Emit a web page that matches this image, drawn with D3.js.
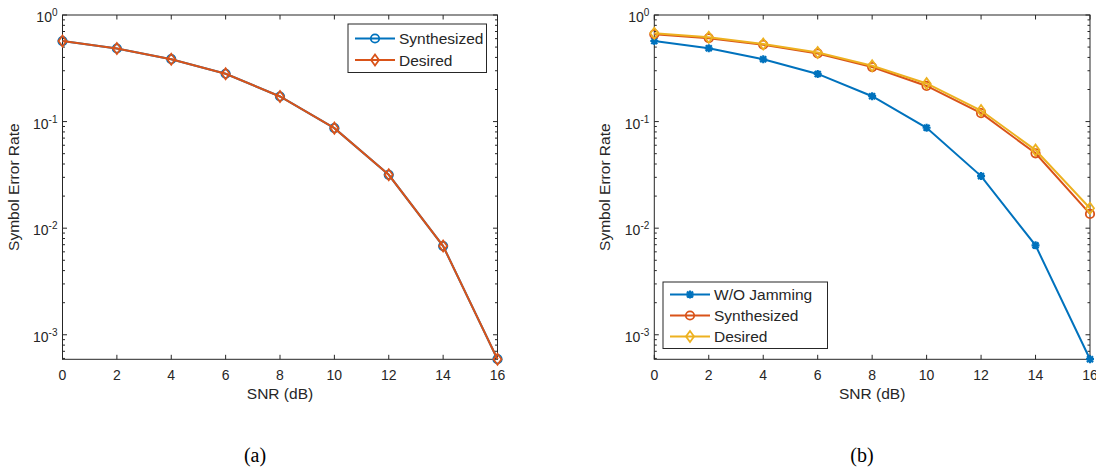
<!DOCTYPE html>
<html>
<head>
<meta charset="utf-8">
<script src="https://cdn.jsdelivr.net/npm/d3@7"></script>
<style>
  body { margin: 0; background: #fff; }
  svg { display: block; }
  text { font-family: "Liberation Sans", Arial, sans-serif; fill: #262626; }
</style>
</head>
<body>
<svg id="chart" width="1096" height="470"></svg>
<script>
// SNR points (dB)
var snr = [0, 2, 4, 6, 8, 10, 12, 14, 16];
var xTicks = [0, 2, 4, 6, 8, 10, 12, 14, 16];
var yTickExp = [0, -1, -2, -3];

// panel (a)
var aSynth   = [0.57, 0.485, 0.385, 0.281, 0.172, 0.0868, 0.0317, 0.0068, 0.00059];
var aDesired = [0.57, 0.485, 0.385, 0.281, 0.172, 0.0868, 0.0317, 0.0068, 0.00059];

// panel (b)
var bNoJam   = [0.57, 0.487, 0.384, 0.28, 0.173, 0.0875, 0.0308, 0.0069, 0.00059];
var bSynth   = [0.66, 0.606, 0.526, 0.436, 0.325, 0.216, 0.120, 0.0504, 0.0136];
var bDesired = [0.675, 0.618, 0.535, 0.445, 0.334, 0.228, 0.127, 0.054, 0.0154];

var blue = "#0072BD", orange = "#D95319", yellow = "#EDB120", axisColor = "#262626";

const svg = d3.select("#chart");

function marker(g, type, color, cx, cy) {
  if (type == "circle") {
    g.append("circle").attr("cx", cx).attr("cy", cy).attr("r", 4.2)
      .attr("fill", "none").attr("stroke", color).attr("stroke-width", 1.8);
  } else if (type == "diamond") {
    g.append("path")
      .attr("d", `M${cx},${cy-5.5} L${cx+4},${cy} L${cx},${cy+5.5} L${cx-4},${cy} Z`)
      .attr("fill", "none").attr("stroke", color).attr("stroke-width", 1.8);
  } else if (type == "star") {
    var r = 4, q = 3;
    g.append("path")
      .attr("d", `M${cx-r},${cy} L${cx+r},${cy} M${cx},${cy-r} L${cx},${cy+r} M${cx-q},${cy-q} L${cx+q},${cy+q} M${cx-q},${cy+q} L${cx+q},${cy-q}`)
      .attr("stroke", color).attr("stroke-width", 2.2);
  }
}

function drawPanel(left, right, series, legend, caption, captionX) {
  const top = 15, bottom = 359.3;
  const x = d3.scaleLinear().domain([0, 16]).range([left, right]);
  const y = d3.scaleLog().domain([5.888e-4, 1]).range([bottom, top]);
  const g = svg.append("g");

  // box
  g.append("rect").attr("x", left).attr("y", top)
    .attr("width", right - left).attr("height", bottom - top)
    .attr("fill", "none").attr("stroke", axisColor).attr("stroke-width", 1);

  // x ticks (bottom and top, inward)
  xTicks.forEach(function(t) {
    g.append("line").attr("x1", x(t)).attr("x2", x(t)).attr("y1", bottom).attr("y2", bottom - 4.5)
      .attr("stroke", axisColor);
    g.append("line").attr("x1", x(t)).attr("x2", x(t)).attr("y1", top).attr("y2", top + 4.5)
      .attr("stroke", axisColor);
    g.append("text").attr("x", x(t)).attr("y", 380).attr("text-anchor", "middle")
      .style("font-size", "14px").text(t);
  });

  // y ticks, log scale major + minor
  for (var e = -4; e <= 0; e++) {
    for (var m = 1; m <= 9; m++) {
      var v = m * Math.pow(10, e);
      if (v < y.domain()[0] || v > 1) continue;
      var len = m == 1 ? 4.5 : 2.5;
      g.append("line").attr("x1", left).attr("x2", left + len).attr("y1", y(v)).attr("y2", y(v))
        .attr("stroke", axisColor);
      g.append("line").attr("x1", right).attr("x2", right - len).attr("y1", y(v)).attr("y2", y(v))
        .attr("stroke", axisColor);
    }
  }
  yTickExp.forEach(function(e) {
    var yy = y(Math.pow(10, e));
    var t = g.append("text").attr("x", left - 5).attr("y", yy + 7).attr("text-anchor", "end")
      .style("font-size", "14px");
    t.append("tspan").text("10");
    t.append("tspan").attr("dy", -6).style("font-size", "10px").text(e);
  });

  // axis labels
  g.append("text").attr("x", (left + right) / 2).attr("y", 399).attr("text-anchor", "middle")
    .style("font-size", "15.5px").text("SNR (dB)");
  g.append("text").attr("transform", `translate(${left - 44},${(top + bottom) / 2}) rotate(-90)`)
    .attr("text-anchor", "middle").style("font-size", "15.5px").text("Symbol Error Rate");

  // lines + markers
  series.forEach(function(s) {
    var pts = snr.map(function(d, i) { return [d, s.values[i]]; });
    g.append("path").datum(pts)
      .attr("fill", "none").attr("stroke", s.color).attr("stroke-width", 2)
      .attr("d", d3.line().x(d => x(d[0])).y(d => y(d[1])));
    pts.forEach(function(p) { marker(g, s.marker, s.color, x(p[0]), y(p[1])); });
  });

  // legend
  const lg = g.append("g");
  lg.append("rect").attr("x", legend.x).attr("y", legend.y)
    .attr("width", legend.w).attr("height", legend.h)
    .attr("fill", "#fff").attr("stroke", axisColor).attr("stroke-width", 1);
  series.forEach(function(s, i) {
    var ry = legend.y + legend.row0 + i * legend.step;
    var lx = legend.x + 7;
    lg.append("line").attr("x1", lx).attr("x2", lx + 40).attr("y1", ry).attr("y2", ry)
      .attr("stroke", s.color).attr("stroke-width", 2);
    marker(lg, s.marker, s.color, lx + 20, ry);
    lg.append("text").attr("x", lx + 44).attr("y", ry + 5.5)
      .style("font-size", "15.5px").text(s.name);
  });

  // caption
  svg.append("text").attr("x", captionX).attr("y", 462).attr("text-anchor", "middle")
    .style("font-family", "'Liberation Serif', 'Times New Roman', serif")
    .style("font-size", "20px").style("fill", "#000").text(caption);
}

drawPanel(62.5, 497.5, [
  { name: "Synthesized", values: aSynth, color: blue, marker: "circle" },
  { name: "Desired", values: aDesired, color: orange, marker: "diamond" }
], { x: 348, y: 24, w: 138.5, h: 48.5, row0: 14.5, step: 21.5 }, "(a)", 255);

drawPanel(654.3, 1090, [
  { name: "W/O Jamming", values: bNoJam, color: blue, marker: "star" },
  { name: "Synthesized", values: bSynth, color: orange, marker: "circle" },
  { name: "Desired", values: bDesired, color: yellow, marker: "diamond" }
], { x: 663, y: 282, w: 164.5, h: 66.5, row0: 12.5, step: 21 }, "(b)", 862);
</script>
</body>
</html>
